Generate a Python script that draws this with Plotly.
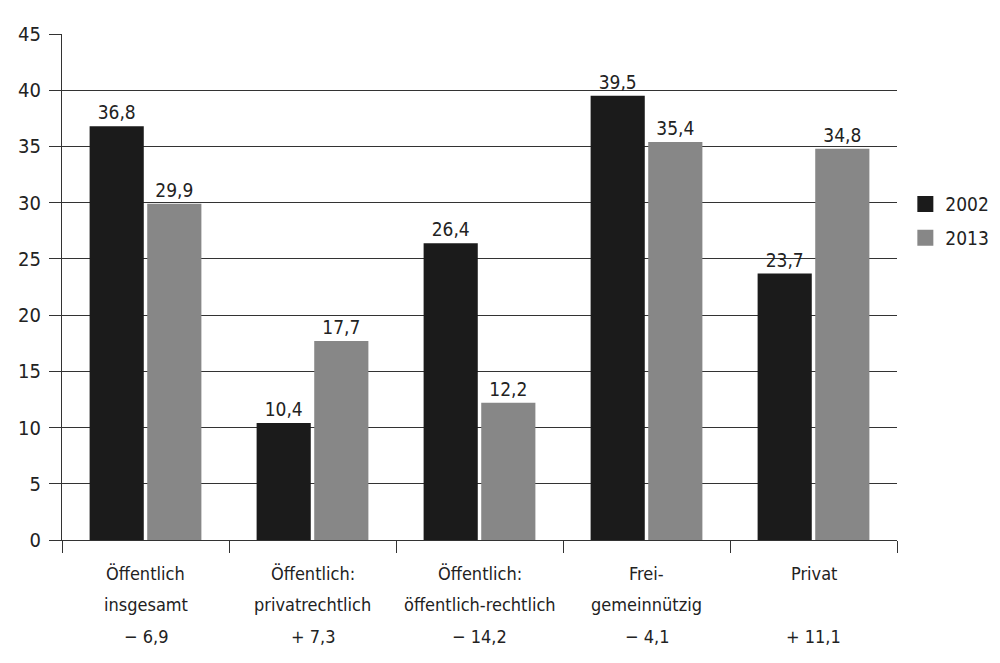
import plotly.graph_objects as go

categories = ["Öffentlich insgesamt",
              "Öffentlich: privatrechtlich",
              "Öffentlich: öffentlich-rechtlich",
              "Frei-gemeinnützig",
              "Privat"]
category_line1 = ["Öffentlich", "Öffentlich:", "Öffentlich:", "Frei-", "Privat"]
category_line2 = ["insgesamt", "privatrechtlich", "öffentlich-rechtlich", "gemeinnützig", ""]
change_labels = ["− 6,9", "+ 7,3", "− 14,2", "− 4,1", "+ 11,1"]
values_2002 = [36.8, 10.4, 26.4, 39.5, 23.7]
values_2013 = [29.9, 17.7, 12.2, 35.4, 34.8]
y_ticks = [0, 5, 10, 15, 20, 25, 30, 35, 40, 45]
series_names = ["2002", "2013"]
colors = ["#1b1b1b", "#878787"]

FONT = "DejaVu Sans Condensed, Liberation Sans Narrow, sans-serif"

def fmt(v):
    return f"{v:.1f}".replace(".", ",")

fig = go.Figure()
for name, vals, col in zip(series_names, [values_2002, values_2013], colors):
    fig.add_trace(go.Bar(x=categories, y=vals, name=name, showlegend=False,
                         marker=dict(color=col, line=dict(width=0)),
                         text=[fmt(v) for v in vals], textposition="outside",
                         textfont=dict(size=19, color="#222"), cliponaxis=False))
for name, col in zip(series_names, colors):
    fig.add_trace(go.Scatter(x=[None], y=[None], mode="markers", name=name,
                             legendgroup=name,
                             marker=dict(symbol="square", size=22, color=col)))

for cat, l1, l2, ch in zip(categories, category_line1, category_line2, change_labels):
    for txt, shift in ((l1, -21), (l2, -52), (ch, -84)):
        if txt:
            fig.add_annotation(x=cat, y=0, xref="x", yref="y", text=txt,
                               showarrow=False, yanchor="top", yshift=shift,
                               font=dict(size=18, color="#222"))

fig.update_layout(
    width=1000, height=663,
    margin=dict(l=62, r=103, t=34, b=123, autoexpand=False),
    paper_bgcolor="white", plot_bgcolor="white",
    font=dict(family=FONT, size=19, color="#222"),
    barmode="group", bargap=0.31, bargroupgap=0.06,
    showlegend=True,
    legend=dict(x=1.01, y=0.63, xanchor="left", yanchor="middle",
                font=dict(size=19), itemsizing="trace", tracegroupgap=6,
                itemwidth=30),
)
fig.update_yaxes(range=[0, 45], tickvals=y_ticks, showgrid=True, gridcolor="#333",
                 gridwidth=1.2, ticks="outside", ticklen=12, tickcolor="#333",
                 showline=True, linecolor="#333", linewidth=1.2, zeroline=False,
                 tickfont=dict(size=20), ticklabelstandoff=4)
fig.update_xaxes(showline=True, linecolor="#333", linewidth=1.2, ticks="outside",
                 tickson="boundaries", ticklen=12, tickcolor="#333",
                 tickangle=0, showticklabels=False)

fig.write_html("out.html")
